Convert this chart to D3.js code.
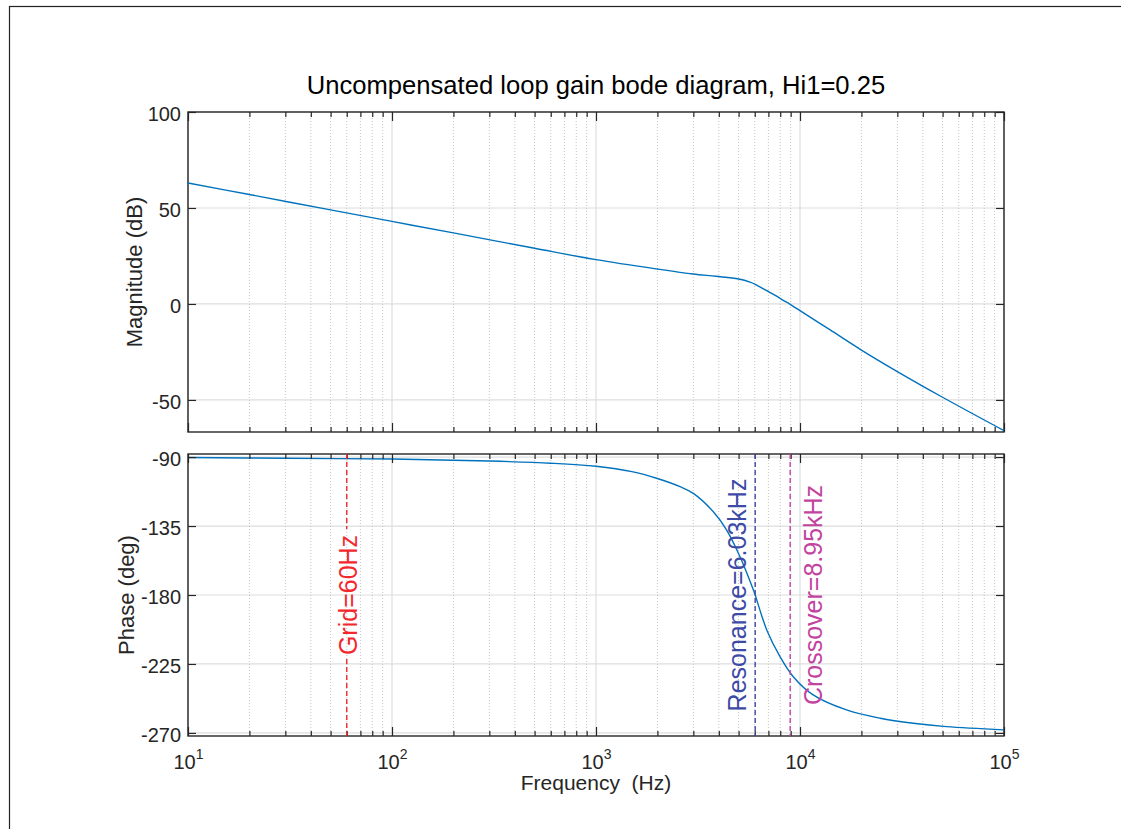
<!DOCTYPE html>
<html>
<head>
<meta charset="utf-8">
<script src="https://cdn.jsdelivr.net/npm/d3@7"></script>
<style>
  body { margin: 0; background: #fff; }
  svg { display: block; font-family: "Liberation Sans", Arial, Helvetica, sans-serif; }
</style>
</head>
<body>
<div id="chart"></div>
<script>
// bode plot of the uncompensated loop gain

const magFreq = [10, 20, 50, 100, 200, 500, 1000, 2000, 3000, 3870, 5000, 5690, 6100, 6870, 7600, 8280, 8950, 10000, 14000, 20000, 30000, 50000, 100000];
const magDb = [63.0, 57.0, 49.0, 43.0, 37.0, 29.0, 23.1, 18.2, 15.6, 14.4, 13.0, 11.4, 10.0, 6.9, 4.3, 1.9, -0.2, -3.5, -13.4, -24.0, -35.2, -48.6, -66.0];

const phaseFreq = [10, 30, 100, 300, 600, 1000, 1500, 2000, 2600, 3000, 3760, 4370, 5080, 5910, 6030, 6870, 7980, 9270, 11600, 16900, 24700, 35900, 52300, 100000];
const phaseDeg = [-90.3, -90.8, -91.3, -92.6, -94.0, -96.0, -99.5, -104.0, -109.5, -113.7, -125.7, -137.6, -155.0, -176.7, -180.0, -202.8, -220.2, -233.3, -245.2, -255.0, -260.4, -263.7, -265.9, -268.0];

const freqTicks = [10, 100, 1000, 10000, 100000];
const magTicks = [-50, 0, 50, 100];
const phaseTicks = [-270, -225, -180, -135, -90];

const markerFreq = [60, 6030, 8950];
const markerLabels = ["Grid=60Hz", "Resonance=6.03kHz", "Crossover=8.95kHz"];

const titleText = "Uncompensated loop gain bode diagram, Hi1=0.25";

function drawBode() {
  const width = 1121;
  const height = 829;
  const left = 188;
  const right = 1004;
  const ink = "#262626";

  const svg = d3.select("#chart")
    .append("svg")
    .attr("width", width)
    .attr("height", height);

  // figure border
  svg.append("rect")
    .attr("x", 9.5)
    .attr("y", 6.5)
    .attr("width", width)
    .attr("height", height)
    .attr("fill", "none")
    .attr("stroke", "#222")
    .attr("stroke-width", 1.2);

  const x = d3.scaleLog().domain([10, 1e5]).range([left, right]);
  const isDecade = function(d) { return Math.abs(Math.log10(d) - Math.round(Math.log10(d))) < 1e-9; };
  const minorTicks = x.ticks().filter(function(d) { return !isDecade(d); });

  function panel(top, bottom, y, yTicks, showXLabels) {
    const g = svg.append("g");

    g.selectAll("line.hgrid")
      .data(yTicks)
      .join("line")
      .attr("x1", left).attr("x2", right)
      .attr("y1", function(d) { return y(d); })
      .attr("y2", function(d) { return y(d); })
      .attr("stroke", "#dedede")
      .attr("stroke-width", 1.2);

    g.selectAll("line.minor")
      .data(minorTicks)
      .join("line")
      .attr("x1", function(d) { return x(d); })
      .attr("x2", function(d) { return x(d); })
      .attr("y1", top).attr("y2", bottom)
      .attr("stroke", "#c4c4c4")
      .attr("stroke-dasharray", "1,2");

    g.selectAll("line.major")
      .data(freqTicks)
      .join("line")
      .attr("x1", function(d) { return x(d); })
      .attr("x2", function(d) { return x(d); })
      .attr("y1", top).attr("y2", bottom)
      .attr("stroke", "#dedede")
      .attr("stroke-width", 1.2);

    const axes = [
      d3.axisLeft(y).tickValues(yTicks).tickSize(-8).tickPadding(7).tickFormat(function(d) { return String(d); }),
      d3.axisRight(y).tickValues(yTicks).tickSize(-8).tickFormat(""),
    ];
    axes.forEach(function(axis, i) {
      const a = svg.append("g")
        .attr("transform", "translate(" + (i === 0 ? left : right) + ",0)")
        .call(axis);
      a.select(".domain").remove();
      a.selectAll("line").attr("stroke", ink).attr("stroke-width", 1.2);
      a.selectAll("text")
        .attr("font-size", 20)
        .attr("font-family", null)
        .attr("fill", ink)
        .attr("dy", "0.42em");
    });

    [["top", top], ["bottom", bottom]].forEach(function(side) {
      const make = side[0] === "top" ? d3.axisTop : d3.axisBottom;
      const major = svg.append("g")
        .attr("transform", "translate(0," + side[1] + ")")
        .call(make(x).tickValues(freqTicks).tickSize(-9).tickFormat(""));
      const minor = svg.append("g")
        .attr("transform", "translate(0," + side[1] + ")")
        .call(make(x).tickValues(minorTicks).tickSize(-5).tickFormat(""));
      [major, minor].forEach(function(a) {
        a.select(".domain").remove();
        a.selectAll("line").attr("stroke", ink).attr("stroke-width", 1.2);
      });
      if (side[0] === "bottom" && showXLabels) {
        major.selectAll(".tick text")
          .attr("y", 33)
          .attr("dy", null)
          .attr("font-size", 20)
          .attr("font-family", null)
          .attr("fill", ink)
          .each(function(d) {
            const t = d3.select(this);
            t.append("tspan").text("10");
            t.append("tspan")
              .attr("dy", -10)
              .attr("font-size", 14)
              .text(Math.round(Math.log10(d)));
          });
      }
    });

    g.append("rect")
      .attr("x", left).attr("y", top)
      .attr("width", right - left).attr("height", bottom - top)
      .attr("fill", "none")
      .attr("stroke", ink)
      .attr("stroke-width", 1.4);

    return g;
  }

  const smooth = d3.curveCatmullRom.alpha(0.5);

  // magnitude panel
  const magTop = 112, magBottom = 432;
  const yMag = d3.scaleLinear().domain([-66.7, 100]).range([magBottom, magTop]);
  const gMag = panel(magTop, magBottom, yMag, magTicks, false);

  gMag.append("path")
    .datum(d3.zip(magFreq, magDb))
    .attr("fill", "none")
    .attr("stroke", "#0072bd")
    .attr("stroke-width", 1.4)
    .attr("d", d3.line()
      .x(function(d) { return x(d[0]); })
      .y(function(d) { return yMag(d[1]); })
      .curve(smooth));

  // phase panel
  const phTop = 454, phBottom = 736;
  const yPh = d3.scaleLinear().domain([-272, -88]).range([phBottom, phTop]);
  const gPh = panel(phTop, phBottom, yPh, phaseTicks, true);

  gPh.append("path")
    .datum(d3.zip(phaseFreq, phaseDeg))
    .attr("fill", "none")
    .attr("stroke", "#0072bd")
    .attr("stroke-width", 1.4)
    .attr("d", d3.line()
      .x(function(d) { return x(d[0]); })
      .y(function(d) { return yPh(d[1]); })
      .curve(smooth));

  // marker lines with rotated labels
  const markerColors = ["#f2282e", "#3d4aa6", "#c2449f"];
  const markerPlace = ["center", "left", "right"];
  const mid = (phTop + phBottom) / 2;

  markerFreq.forEach(function(f, i) {
    const mx = x(f);
    const label = svg.append("text")
      .attr("transform", "translate(" + (markerPlace[i] === "center" ? mx + 1 : markerPlace[i] === "left" ? mx - 9 : mx + 32) + "," + mid + ") rotate(-90)")
      .attr("text-anchor", "middle")
      .attr("font-size", 25)
      .attr("fill", markerColors[i])
      .attr("dominant-baseline", markerPlace[i] === "center" ? "central" : "auto")
      .text(markerLabels[i]);

    const segments = [[phTop, phBottom]];
    if (markerPlace[i] === "center") {
      const half = label.node().getComputedTextLength() / 2;
      segments[0] = [phTop, mid - half - 6];
      segments.push([mid + half + 4, phBottom]);
    }

    svg.selectAll(null)
      .data(segments)
      .join("line")
      .attr("x1", mx).attr("x2", mx)
      .attr("y1", function(d) { return d[0]; })
      .attr("y2", function(d) { return d[1]; })
      .attr("stroke", markerColors[i])
      .attr("stroke-width", 1.4)
      .attr("stroke-dasharray", "5,3");
  });

  // titles and axis labels
  svg.append("text")
    .attr("x", (left + right) / 2)
    .attr("y", 94)
    .attr("text-anchor", "middle")
    .attr("font-size", 25.6)
    .attr("fill", "#000")
    .text(titleText);

  svg.append("text")
    .attr("transform", "translate(142," + (magTop + magBottom) / 2 + ") rotate(-90)")
    .attr("text-anchor", "middle")
    .attr("font-size", 22)
    .attr("fill", ink)
    .text("Magnitude (dB)");

  svg.append("text")
    .attr("transform", "translate(134," + mid + ") rotate(-90)")
    .attr("text-anchor", "middle")
    .attr("font-size", 22)
    .attr("fill", ink)
    .text("Phase (deg)");

  svg.append("text")
    .attr("x", (left + right) / 2)
    .attr("y", 790)
    .attr("text-anchor", "middle")
    .attr("font-size", 21)
    .attr("fill", ink)
    .style("white-space", "pre")
    .text("Frequency  (Hz)");
}

drawBode();
</script>
</body>
</html>
